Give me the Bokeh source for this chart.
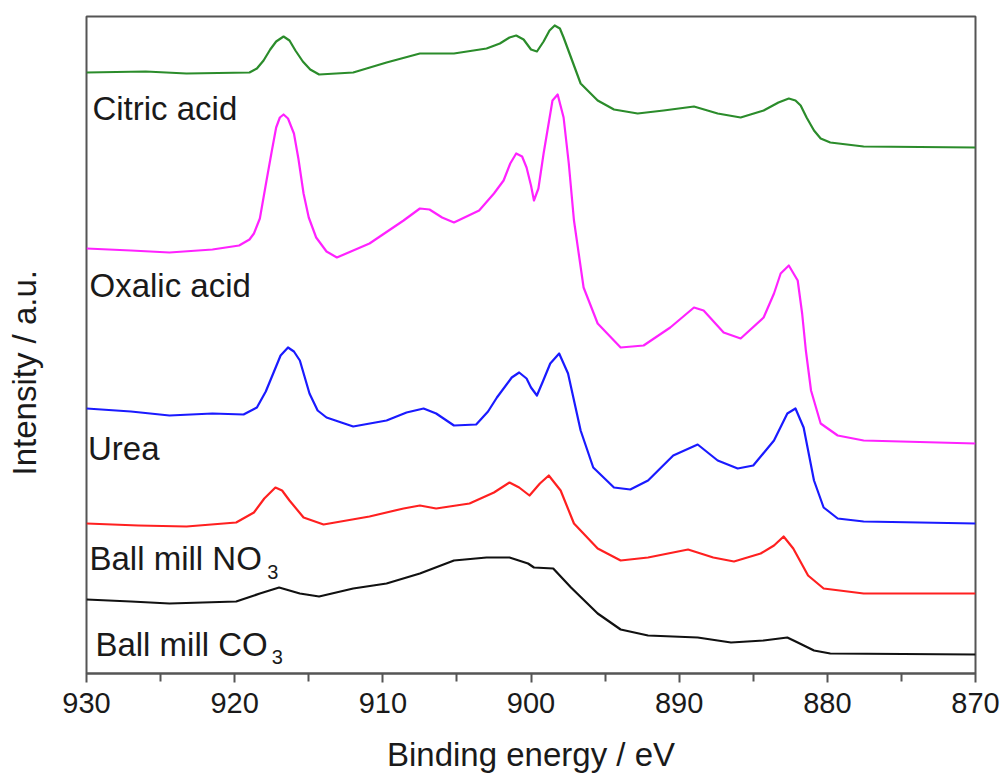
from bokeh.plotting import figure
from bokeh.models import Range1d, FixedTicker, Label, Title
from bokeh.embed import file_html
from bokeh.resources import INLINE

# Binding energy (eV) / intensity (a.u., offset)
citric_e = [930.0, 926.0, 923.25, 919.0, 918.5, 918.05, 917.6, 917.2, 916.7, 916.3, 915.9, 915.4,
            914.9, 914.3, 912.0, 909.75, 907.5, 905.2, 903.0, 902.1, 901.45, 901.0, 900.5, 900.0,
            899.6, 899.15, 898.75, 898.4, 898.05, 897.8, 897.3, 896.65, 895.5, 894.4, 892.8, 891.05,
            889.0, 887.4, 885.85, 884.3, 883.3, 882.6, 882.15, 881.8, 881.4, 880.9, 880.45, 879.8,
            877.55, 870.0]
citric_i = [601, 602, 600, 601, 605, 613, 624, 632, 637, 633, 623, 612,
            604, 599, 601, 611, 620, 620, 625, 630, 636, 638, 634, 624,
            622, 632, 643, 648, 645, 636, 616, 590, 573, 564, 560, 563,
            567, 560, 556, 563, 571, 575, 573, 568, 556, 543, 535, 531,
            527, 526]

oxalic_e = [930.0, 927.0, 924.4, 921.5, 919.7, 919.0, 918.7, 918.3, 917.85, 917.5, 917.2, 916.95,
            916.7, 916.4, 916.0, 915.7, 915.35, 915.0, 914.5, 913.8, 913.1, 910.9, 908.6, 907.5,
            906.85, 906.0, 905.2, 903.5, 902.5, 901.85, 901.4, 901.0, 900.6, 900.3, 900.0, 899.8,
            899.5, 899.15, 898.55, 898.2, 897.8, 897.45, 897.1, 896.45, 895.5, 893.95, 892.4, 890.6,
            889.0, 888.35, 887.0, 885.85, 884.3, 883.6, 883.15, 882.6, 882.0, 881.7, 881.45, 881.1,
            880.45, 879.3, 877.55, 870.0]
oxalic_i = [425, 423, 421, 424, 428, 434, 440, 455, 493, 522, 546, 556,
            559, 555, 540, 515, 480, 456, 436, 422, 416, 430, 453, 465,
            464, 456, 451, 463, 480, 493, 510, 520, 517, 506, 488, 473,
            485, 520, 573, 579, 556, 510, 453, 386, 350, 326, 328, 346,
            366, 363, 341, 335, 356, 380, 400, 408, 393, 360, 323, 283,
            250, 238, 233, 230]

urea_e = [930.0, 927.0, 924.4, 921.5, 919.4, 918.5, 917.9, 917.4, 916.9, 916.4, 916.0, 915.6,
          914.95, 914.4, 913.8, 912.0, 909.75, 908.4, 907.25, 906.4, 905.2, 903.7, 902.9, 902.3,
          901.3, 900.8, 900.3, 900.0, 899.6, 899.2, 898.7, 898.1, 897.5, 896.65, 895.8, 894.4,
          893.3, 892.1, 890.4, 888.75, 887.4, 886.05, 885.0, 883.6, 882.7, 882.15, 881.6, 880.9,
          880.25, 879.3, 877.55, 870.0]
urea_i = [265, 262, 258, 260, 259, 266, 282, 300, 318, 326, 322, 313,
          280, 263, 256, 247, 253, 261, 265, 260, 248, 249, 262, 276,
          296, 301, 295, 286, 278, 292, 310, 320, 300, 243, 206, 186,
          184, 193, 218, 229, 213, 205, 208, 233, 260, 265, 246, 193,
          166, 155, 152, 150]

no3_e = [930.0, 926.5, 923.25, 919.9, 918.7, 918.0, 917.25, 916.8, 916.3, 915.35, 914.0, 910.9,
         908.6, 907.5, 906.4, 904.15, 902.5, 901.45, 900.8, 900.1, 899.4, 898.8, 898.0, 897.1,
         895.5, 893.95, 892.1, 889.4, 887.7, 886.3, 884.5, 883.6, 882.95, 882.3, 881.3, 880.25,
         877.55, 870.0]
no3_i = [150, 148, 147, 151, 161, 175, 186, 183, 173, 156, 149, 157,
         165, 168, 165, 170, 181, 191, 186, 178, 190, 198, 183, 150,
         125, 113, 116, 124, 116, 112, 120, 128, 137, 125, 98, 85,
         80, 80]

co3_e = [930.0, 927.0, 924.4, 919.9, 918.3, 917.0, 915.6, 914.3, 912.0, 909.75, 907.5, 905.2,
         903.0, 901.45, 900.2, 899.8, 898.5, 897.3, 895.5, 893.95, 892.1, 888.75, 886.5, 884.3,
         882.7, 882.0, 880.9, 879.8, 870.0]
co3_i = [74, 72, 70, 72, 80, 86, 80, 77, 85, 90, 100, 113,
         116, 116, 110, 106, 105, 86, 60, 44, 38, 36, 31, 33,
         36, 31, 23, 20, 19]

x_ticks = [930, 920, 910, 900, 890, 880, 870]
x_minor = [925, 915, 905, 895, 885, 875]

FONT = "Liberation Sans"
TXT = "#1a1a1a"
FRAME = "#555555"

p = figure(frame_width=889, frame_height=657, output_backend="svg", toolbar_location=None,
           x_range=Range1d(930, 870), y_range=Range1d(0, 657))
p.min_border_left = 86
p.min_border_right = 26
p.min_border_top = 16
p.min_border_bottom = 103
p.background_fill_color = "white"
p.border_fill_color = "white"
p.grid.visible = False
p.outline_line_color = FRAME
p.outline_line_width = 2
p.yaxis.visible = False

ax = p.xaxis[0]
ax.ticker = FixedTicker(ticks=x_ticks, minor_ticks=x_minor)
ax.axis_line_color = FRAME
ax.axis_line_width = 2
ax.major_tick_line_color = FRAME
ax.major_tick_line_width = 2
ax.minor_tick_line_color = FRAME
ax.minor_tick_line_width = 2
ax.major_tick_in = 0
ax.major_tick_out = 9
ax.minor_tick_in = 0
ax.minor_tick_out = 8
ax.major_label_text_font = FONT
ax.major_label_text_font_size = "29px"
ax.major_label_text_color = TXT
ax.major_label_standoff = 10
ax.axis_label = "Binding energy / eV"
ax.axis_label_text_font = FONT
ax.axis_label_text_font_size = "33px"
ax.axis_label_text_font_style = "normal"
ax.axis_label_text_color = TXT
ax.axis_label_standoff = 20

series = [
    (citric_e, citric_i, "#2b8c2b"),
    (oxalic_e, oxalic_i, "#ff22ff"),
    (urea_e, urea_i, "#1a1aff"),
    (no3_e, no3_i, "#ff2020"),
    (co3_e, co3_i, "#111111"),
]
for xs, ys, col in series:
    p.line(xs, ys, line_color=col, line_width=2.2, line_join="round")

labels = [
    ("Citric acid", 929.6, 565, "33px"),
    ("Oxalic acid", 929.8, 388, "33px"),
    ("Urea", 929.9, 225, "33px"),
    ("Ball mill NO", 929.8, 115, "33px"),
    ("3", 917.8, 102, "20px"),
    ("Ball mill CO", 929.4, 29, "33px"),
    ("3", 917.5, 17, "20px"),
]
for t, x, y, fs in labels:
    p.add_layout(Label(x=x, y=y, text=t, text_font=FONT, text_font_size=fs,
                       text_color=TXT, text_baseline="alphabetic", text_align="left"))

# empty spacer panel, then the y-axis title further out
spacer = Title(text=" ", standoff=40, text_font_size="1px", text_color="white")
p.add_layout(spacer, "left")
ytitle = Title(text="Intensity / a.u.", align="left", offset=198, standoff=2,
               text_font=FONT, text_font_size="33px", text_font_style="normal",
               text_color=TXT)
p.add_layout(ytitle, "left")

open("out.html", "w").write(file_html(p, INLINE))
